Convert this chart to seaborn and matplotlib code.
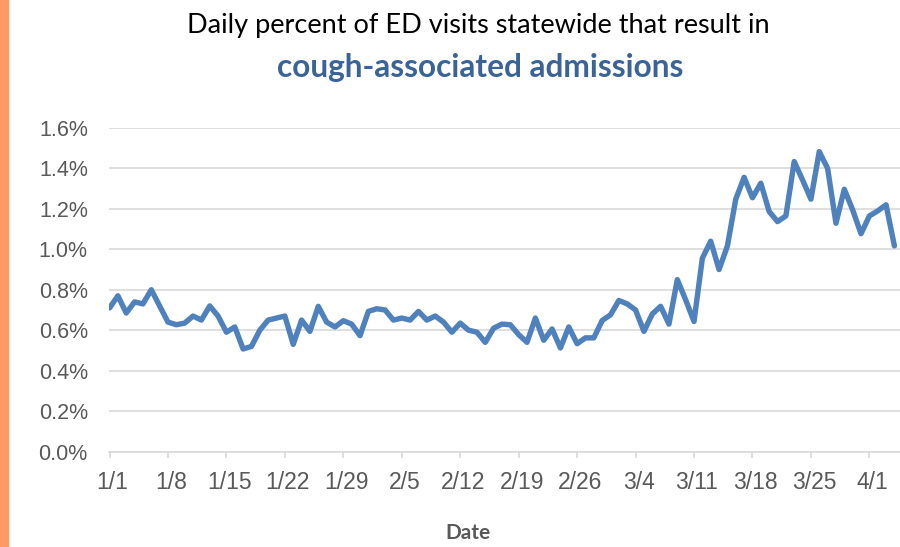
import matplotlib
matplotlib.use("Agg")
import matplotlib.pyplot as plt
import matplotlib.transforms as mtrans
from matplotlib.patches import Rectangle
import seaborn as sns
import pandas as pd
import numpy as np

# ---------------- data ----------------
start_date = "2020-01-01"
pct = [
    0.71, 0.77, 0.685, 0.74, 0.73, 0.80, 0.72, 0.64, 0.627, 0.635,
    0.67, 0.65, 0.72, 0.67, 0.59, 0.616, 0.507, 0.52, 0.60, 0.65,
    0.66, 0.67, 0.53, 0.65, 0.594, 0.718, 0.64, 0.616, 0.647, 0.63,
    0.573, 0.693, 0.706, 0.70, 0.65, 0.66, 0.65, 0.693, 0.65, 0.67,
    0.64, 0.59, 0.635, 0.60, 0.59, 0.54, 0.61, 0.63, 0.627, 0.578,
    0.54, 0.66, 0.55, 0.606, 0.512, 0.616, 0.533, 0.562, 0.562, 0.648,
    0.676, 0.747, 0.73, 0.70, 0.594, 0.68, 0.718, 0.63, 0.85, 0.75,
    0.643, 0.956, 1.04, 0.90, 1.017, 1.248, 1.356, 1.255, 1.327, 1.187,
    1.137, 1.165, 1.434, 1.343, 1.248, 1.483, 1.40, 1.129, 1.297, 1.195,
    1.077, 1.165, 1.19, 1.22, 1.017,
]
tick_labels = ["1/1", "1/8", "1/15", "1/22", "1/29", "2/5", "2/12", "2/19",
               "2/26", "3/4", "3/11", "3/18", "3/25", "4/1"]
y_ticks = [0.0, 0.2, 0.4, 0.6, 0.8, 1.0, 1.2, 1.4, 1.6]
title_line1 = "Daily percent of ED visits statewide that result in"
title_line2 = "cough-associated admissions"
x_label = "Date"

dates = pd.date_range(start_date, periods=len(pct), freq="D")
df = pd.DataFrame({"date": dates, "pct": pct})

# ---------------- style ----------------
sns.set_theme(style="white")
plt.rcParams["font.family"] = ["Liberation Sans", "DejaVu Sans"]

W, H = 900, 547
fig = plt.figure(figsize=(W / 100, H / 100), dpi=100)
fig.patch.set_facecolor("white")

left_px, right_px, top_px, bottom_px = 108.7, 900, 128, 451.5
ax = fig.add_axes([left_px / W, (H - bottom_px) / H,
                   (right_px - left_px) / W, (bottom_px - top_px) / H])

sns.lineplot(data=df, x="date", y="pct", ax=ax, color="#4F81BD",
             linewidth=3.9, solid_joinstyle="round", solid_capstyle="round")

ax.set_ylim(0, 1.6)
ax.set_yticks(y_ticks)
ax.set_yticklabels([f"{v:.1f}%" for v in y_ticks])

t0 = pd.Timestamp(start_date)
ax.set_xlim(t0 - pd.Timedelta(days=0.1), t0 + pd.Timedelta(days=94.67))
tick_dates = pd.date_range(start_date, periods=len(tick_labels), freq="7D")
ax.set_xticks(tick_dates)
ax.set_xticklabels(tick_labels)

ax.yaxis.grid(True, color="#D9D9D9", linewidth=1.2)
ax.xaxis.grid(False)
for s in ["top", "right", "left"]:
    ax.spines[s].set_visible(False)
ax.spines["bottom"].set_color("#D9D9D9")
ax.spines["bottom"].set_linewidth(1.2)

ax.tick_params(axis="x", length=4.3, width=1.2, color="#D9D9D9",
               direction="out", labelsize=16.5, labelcolor="#595959", pad=9.5,
               bottom=True)
ax.tick_params(axis="y", length=0, labelsize=15.5, labelcolor="#595959", pad=15)
ax.set_xlabel("")
ax.set_ylabel("")

off = mtrans.ScaledTranslation(3 / 100, 0, fig.dpi_scale_trans)
for lab in ax.get_xticklabels():
    lab.set_transform(lab.get_transform() + off)

fig.text(468 / W, 1 - 533 / H, x_label, ha="center", va="center",
         fontsize=15, fontweight="bold", color="#595959",
         family=["Lato", "DejaVu Sans"])

fig.text(0.532, 1 - 26 / H, title_line1, ha="center", va="center",
         fontsize=19.5, color="black", family=["Lato", "DejaVu Sans"])
fig.text(0.534, 1 - 68 / H, title_line2, ha="center", va="center",
         fontsize=22.8, fontweight="bold", color="#3A6397",
         family=["Lato", "DejaVu Sans"])

fig.patches.append(Rectangle((0, 0), 8 / W, 1, transform=fig.transFigure,
                             color="#FF9966", zorder=5))

fig.savefig("out.png", dpi=100)
